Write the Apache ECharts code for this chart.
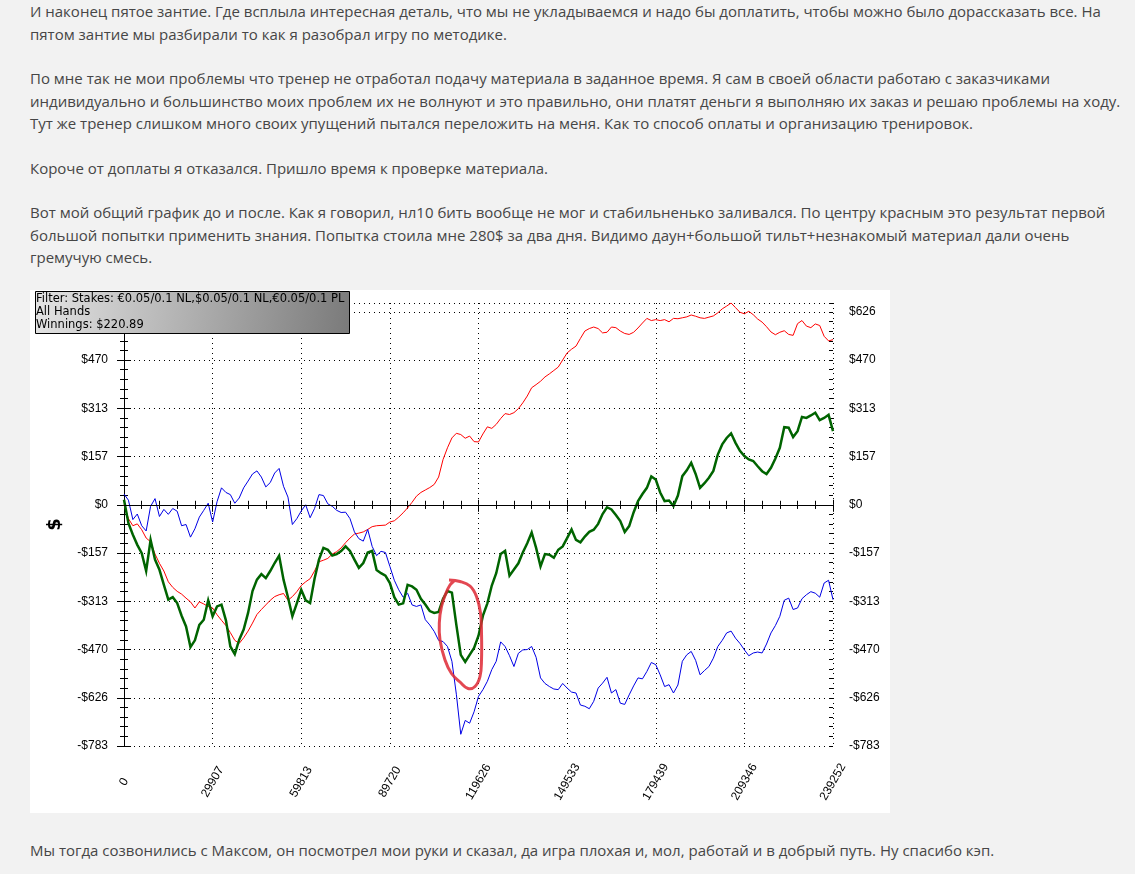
<!DOCTYPE html>
<html>
<head>
<meta charset="utf-8">
<title>график</title>
<script src="https://cdn.jsdelivr.net/npm/echarts/dist/echarts.min.js"></script>
<style>
  body { margin: 0; background: #f2f2f2; font-family: 'Open Sans', sans-serif; font-size: 15px; color: #464646; }
  .post { position: absolute; left: 30px; top: 0; line-height: 22.5px; white-space: nowrap; }
  .post p { margin: 0 0 22px 0; }
  #chart { position: absolute; left: 30px; top: 290px; width: 860px; height: 523px; background: #fff; }
  .after { position: absolute; left: 30px; top: 839px; line-height: 22.5px; margin: 0; white-space: nowrap; }
</style>
</head>
<body>
<div class="post">
  <p>И наконец пятое зантие. Где всплыла интересная деталь, что мы не укладываемся и надо бы доплатить, чтобы можно было дорассказать все. На<br>пятом зантие мы разбирали то как я разобрал игру по методике.</p>
  <p>По мне так не мои проблемы что тренер не отработал подачу материала в заданное время. Я сам в своей области работаю с заказчиками<br>индивидуально и большинство моих проблем их не волнуют и это правильно, они платят деньги я выполняю их заказ и решаю проблемы на ходу.<br>Тут же тренер слишком много своих упущений пытался переложить на меня. Как то способ оплаты и организацию тренировок.</p>
  <p>Короче от доплаты я отказался. Пришло время к проверке материала.</p>
  <p>Вот мой общий график до и после. Как я говорил, нл10 бить вообще не мог и стабильненько заливался. По центру красным это результат первой<br>большой попытки применить знания. Попытка стоила мне 280$ за два дня. Видимо даун+большой тильт+незнакомый материал дали очень<br>гремучую смесь.</p>
</div>
<div id="chart"></div>
<p class="after">Мы тогда созвонились с Максом, он посмотрел мои руки и сказал, да игра плохая и, мол, работай и в добрый путь. Ну спасибо кэп.</p>

<script>
const HANDS_TOTAL = 239252;
const SAMPLES = 160;
const Y_STEP = 156.6;
const Y_MIN = -783;
const Y_MAX = 655;

const LEGEND_LINES = [
  'Filter: Stakes: €0.05/0.1 NL,$0.05/0.1 NL,€0.05/0.1 PL',
  'All Hands',
  'Winnings: $220.89'
];

// красная линия
const RED = [
  0, -45, -68, -62, -81, -108, -120, -160, -190, -215,
  -250, -268, -281, -290, -303, -315, -335, -315, -322, -330,
  -335, -357, -375, -392, -415, -440, -450, -432, -410, -384,
  -356, -340, -325, -310, -298, -292, -288, -310, -298, -282,
  -262, -250, -240, -215, -185, -180, -174, -160, -152, -140,
  -123, -108, -95, -92, -88, -80, -71, -68, -67, -66,
  -56, -52, -40, -26, -10, 8, 28, 40, 48, 56,
  66, 90, 147, 185, 217, 232, 228, 216, 223, 205,
  204, 230, 253, 248, 261, 280, 296, 293, 299, 312,
  331, 353, 380, 390, 401, 415, 425, 436, 447, 470,
  493, 505, 515, 540, 564, 572, 577, 572, 558, 560,
  577, 575, 564, 556, 553, 560, 574, 590, 605, 598,
  601, 598, 601, 594, 605, 604, 607, 610, 616, 612,
  607, 605, 609, 613, 623, 636, 645, 655, 640, 625,
  620, 628, 617, 603, 593, 578, 561, 552, 560, 565,
  553, 550, 588, 598, 580, 575, 587, 582, 547, 532,
  536
];

// зелёная линия
const GREEN = [
  16, -60, -97, -130, -157, -215, -114, -178, -211, -260,
  -308, -300, -319, -360, -395, -462, -440, -390, -373, -310,
  -362, -330, -324, -375, -460, -485, -438, -405, -351, -280,
  -243, -225, -238, -215, -189, -165, -243, -300, -362, -320,
  -276, -310, -319, -240, -178, -140, -146, -165, -160, -150,
  -135, -150, -178, -205, -189, -155, -150, -212, -222, -230,
  -254, -300, -324, -320, -260, -265, -276, -305, -324, -345,
  -351, -348, -305, -280, -285, -390, -487, -510, -487, -465,
  -425, -360, -320, -262, -222, -160, -150, -230, -210, -190,
  -155, -125, -90, -140, -200, -160, -162, -172, -146, -135,
  -108, -80, -114, -122, -103, -88, -81, -62, -30, -8,
  -15, -33, -53, -88, -69, -25, 12, 35, 55, 92,
  82, 40, 12, 14, -4, 30, 93, 112, 136, 100,
  55, 70, 88, 110, 163, 196, 217, 232, 201, 175,
  158, 147, 142, 125, 109, 100, 120, 150, 185, 252,
  250, 220, 239, 285, 282, 290, 299, 275, 282, 292,
  239
];

// синяя линия
const BLUE = [
  35, 15, -48, -30, -68, -85, -5, 20, -38, -15,
  -31, -12, -21, -68, -64, -105, -78, -40, -18, 5,
  -56, 10, 55, 40, 33, 5, 22, 55, 77, 100,
  110, 90, 58, 72, 103, 118, 60, 25, -64, -45,
  -20, 0, -42, -12, 33, 30, 3, -5, -18, -25,
  -24, -45, -88, -110, -118, -80, -135, -165, -151, -155,
  -200, -245, -276, -300, -287, -325, -330, -325, -373, -390,
  -411, -440, -444, -460, -508, -615, -745, -700, -709, -672,
  -622, -600, -573, -535, -508, -445, -460, -490, -525, -482,
  -471, -470, -460, -495, -562, -580, -590, -598, -600, -580,
  -595, -608, -611, -650, -654, -662, -638, -595, -579, -560,
  -611, -600, -644, -648, -617, -588, -562, -565, -541, -512,
  -519, -552, -590, -584, -611, -585, -508, -487, -476, -505,
  -552, -538, -525, -498, -460, -440, -416, -410, -433, -450,
  -471, -490, -481, -478, -481, -452, -416, -392, -362, -310,
  -303, -340, -335, -305, -292, -282, -287, -300, -254, -245,
  -308
];

function toPairs(values) {
  return values.map((v, i) => [i * HANDS_TOTAL / SAMPLES, v]);
}

function yLabel(v) {
  const k = Math.round(v / Y_STEP);
  if (Math.abs(v - k * Y_STEP) > 1) return '';
  const r = Math.round(v);
  return r < 0 ? '-$' + (-r) : '$' + r;
}

const chart = echarts.init(document.getElementById('chart'));

const font = { color: '#000', fontSize: 12, fontFamily: 'Liberation Sans, Arial, sans-serif' };
const black = { color: '#000', width: 1 };
const dotted = { color: '#000', width: 1, type: [1, 4] };

const xBase = { type: 'value', min: 0, max: HANDS_TOTAL, interval: HANDS_TOTAL / 8 };
const yBase = { type: 'value', min: Y_MIN, max: Y_MAX, interval: Y_STEP };

chart.setOption({
  animation: false,
  backgroundColor: '#ffffff',
  grid: { left: 94, right: 57, top: 13, bottom: 67, containLabel: false, outerBoundsMode: 'none' },
  xAxis: [
    Object.assign({}, xBase, {
      position: 'bottom',
      axisLine: { show: true, lineStyle: black },
      axisTick: { show: true, length: 7, lineStyle: black },
      minorTick: { show: true, splitNumber: 5, length: 4, lineStyle: black },
      splitLine: { show: true, lineStyle: dotted },
      axisLabel: Object.assign({
        rotate: 60, align: 'center', verticalAlign: 'middle', margin: 36,
        showMinLabel: true, showMaxLabel: true, hideOverlap: false,
        formatter: v => String(Math.round(v))
      }, font)
    }),
    Object.assign({}, xBase, {
      position: 'bottom',
      axisLine: { show: false },
      axisTick: { show: true, inside: true, length: 5, lineStyle: black },
      minorTick: { show: true, splitNumber: 5, length: 4, lineStyle: black },
      splitLine: { show: false },
      axisLabel: { show: false }
    }),
    Object.assign({}, xBase, {
      position: 'top',
      axisLine: { show: true, lineStyle: black },
      axisTick: { show: true, inside: true, length: 4, lineStyle: black },
      minorTick: { show: true, splitNumber: 5, length: 4, lineStyle: black },
      splitLine: { show: false },
      axisLabel: { show: false }
    })
  ],
  yAxis: [
    Object.assign({}, yBase, {
      position: 'left',
      name: '$', nameLocation: 'middle', nameGap: 60, nameRotate: 90,
      nameTextStyle: { color: '#000', fontSize: 18, fontWeight: 'bold', fontFamily: 'DejaVu Sans' },
      axisLine: { show: true, lineStyle: black },
      axisTick: { show: true, length: 7, lineStyle: black },
      minorTick: { show: true, splitNumber: 5, length: 4, lineStyle: black },
      splitLine: { show: true, lineStyle: dotted },
      axisLabel: Object.assign({ margin: 16, showMinLabel: true, formatter: yLabel }, font)
    }),
    Object.assign({}, yBase, {
      position: 'left',
      axisLine: { show: false },
      axisTick: { show: true, inside: true, length: 4, lineStyle: black },
      minorTick: { show: true, splitNumber: 5, length: 4, lineStyle: black },
      splitLine: { show: false },
      axisLabel: { show: false }
    }),
    Object.assign({}, yBase, {
      position: 'right',
      axisLine: { show: true, lineStyle: black },
      axisTick: { show: true, length: 7, lineStyle: black },
      minorTick: { show: true, splitNumber: 5, length: 4, lineStyle: black },
      splitLine: { show: false },
      axisLabel: Object.assign({ margin: 16, showMinLabel: true, formatter: yLabel }, font)
    }),
    Object.assign({}, yBase, {
      position: 'right',
      axisLine: { show: false },
      axisTick: { show: true, inside: true, length: 4, lineStyle: black },
      minorTick: { show: true, splitNumber: 5, length: 4, lineStyle: black },
      splitLine: { show: false },
      axisLabel: { show: false }
    })
  ],
  series: [
    {
      type: 'line', name: 'red', data: toPairs(RED), showSymbol: false, symbol: 'none', smooth: false,
      lineStyle: { color: '#ff0000', width: 1, join: 'miter' },
      markLine: {
        silent: true, symbol: 'none', label: { show: false },
        lineStyle: { color: '#000', width: 1, type: 'solid' },
        data: [{ yAxis: 0 }]
      }
    },
    {
      type: 'line', name: 'blue', data: toPairs(BLUE), showSymbol: false, symbol: 'none', smooth: false,
      lineStyle: { color: '#0000e6', width: 1, join: 'miter' }
    },
    {
      type: 'line', name: 'green', data: toPairs(GREEN), showSymbol: false, symbol: 'none', smooth: false,
      lineStyle: { color: '#006400', width: 2.5, join: 'miter' }
    }
  ],
  graphic: [
    {
      type: 'rect', z: 100, left: 5, top: 1,
      shape: { width: 314, height: 42 },
      style: {
        fill: new echarts.graphic.LinearGradient(0, 0, 1, 1, [
          { offset: 0, color: '#e4e4e4' },
          { offset: 1, color: '#7a7a7a' }
        ]),
        stroke: '#000', lineWidth: 1
      }
    },
    ...LEGEND_LINES.map((t, i) => ({
      type: 'text', z: 101, left: 6, top: 3 + i * 13,
      style: { text: t, fill: '#000', font: '11.5px "DejaVu Sans", sans-serif' }
    })),
    {
      // обводка от руки вокруг провала
      type: 'polyline', z: 90,
      shape: {
        smooth: 0.4,
        points: [[419, 290], [430, 291.5], [440, 296], [446.5, 306.5], [450.5, 323], [451.5, 343],
                 [451.5, 370], [450, 386.5], [445, 396.5], [438, 398.5], [430, 392], [421.5, 383.5],
                 [415, 370], [410, 350], [409.3, 333], [411.5, 316.5], [416, 303], [420, 295], [424, 291]]
      },
      style: { stroke: 'rgba(222,40,52,0.85)', lineWidth: 3, fill: null }
    }
  ]
});
</script>
</body>
</html>
